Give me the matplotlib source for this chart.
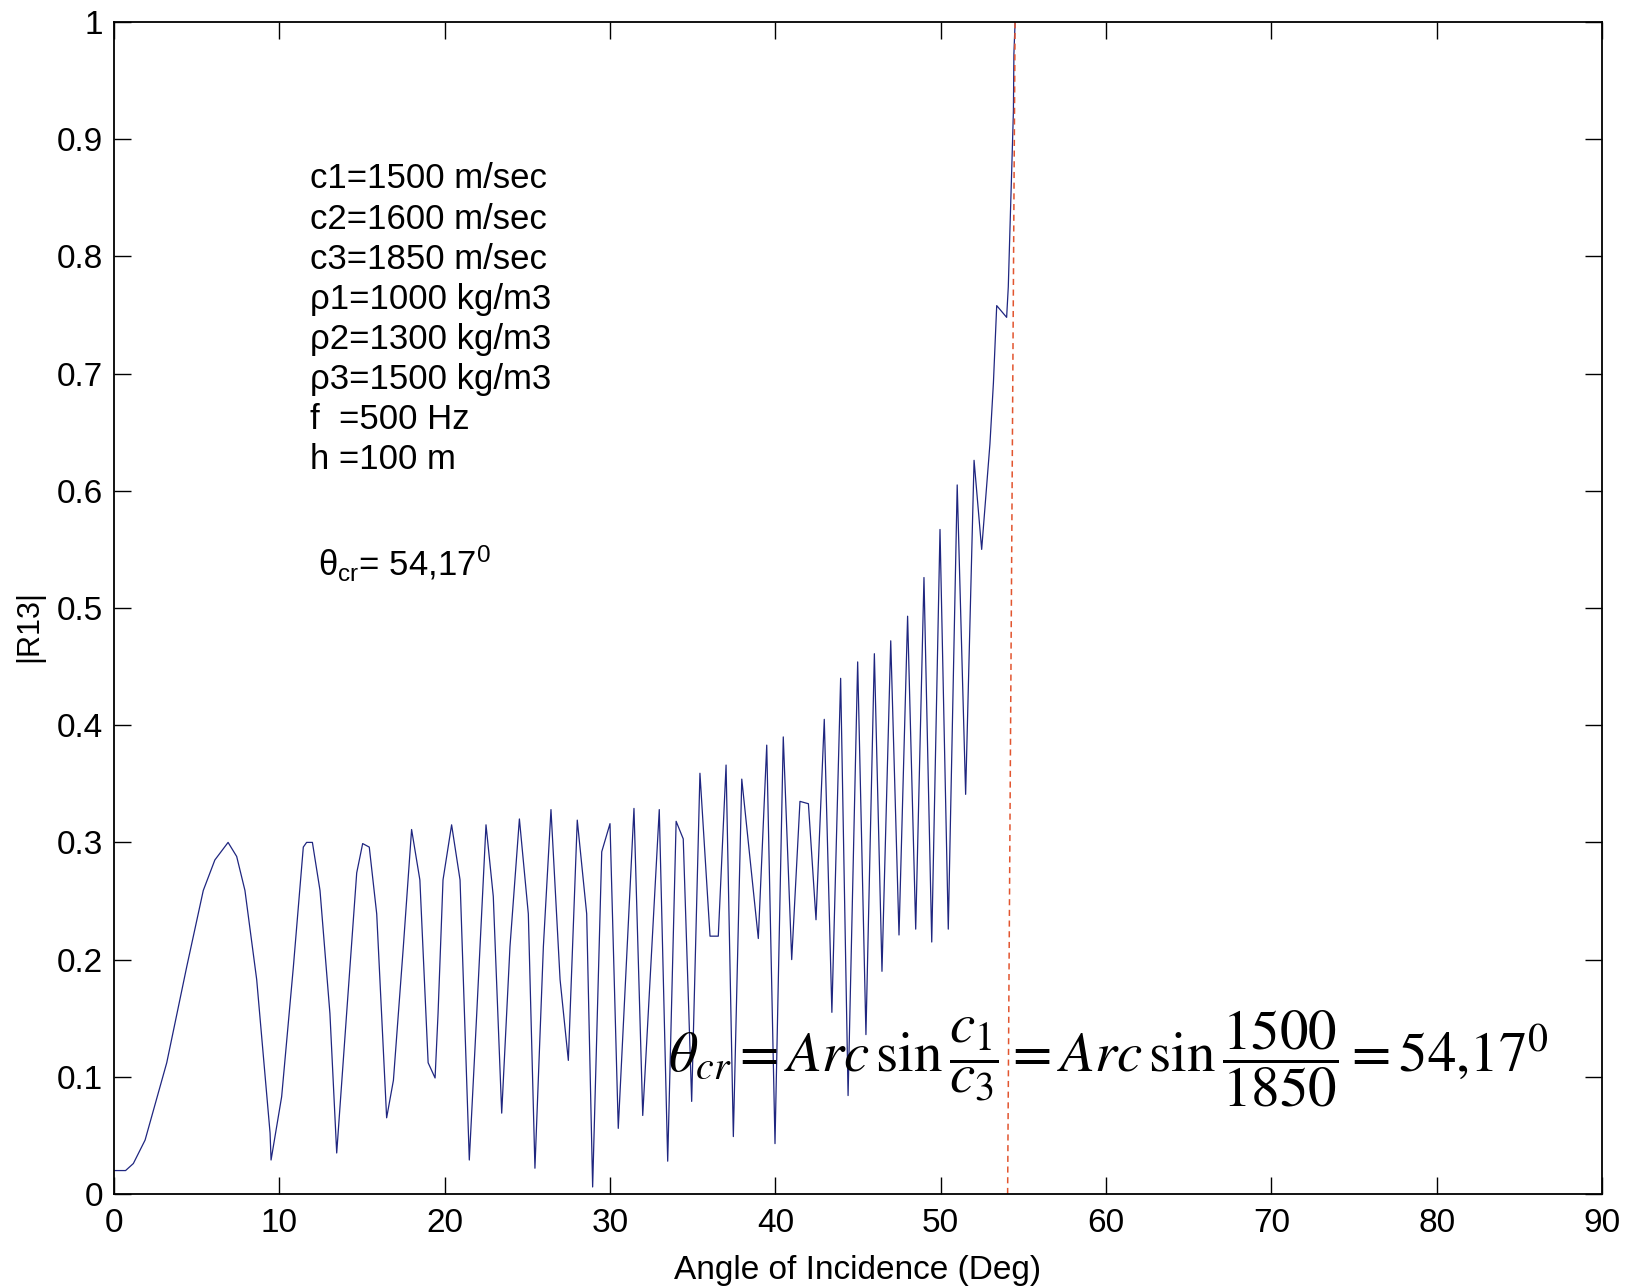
import matplotlib
matplotlib.use("Agg")
import matplotlib.pyplot as plt

# |R13| (vertices de la curva, grados)
angle_deg = [0.00, 0.70, 1.17, 1.88, 3.19, 4.40, 5.40, 6.10, 6.90, 7.42,
             7.92, 8.63, 9.44, 9.50, 10.14, 10.85, 11.45, 11.65, 12.00, 12.46,
             13.06, 13.47, 14.07, 14.68, 15.04, 15.44, 15.89, 16.49, 16.90, 17.50,
             18.00, 18.50, 19.00, 19.42, 19.60, 19.90, 20.42, 20.93, 21.49, 21.94,
             22.50, 22.94, 23.45, 23.95, 24.52, 25.06, 25.46, 25.97, 26.43, 26.98,
             27.48, 28.02, 28.59, 28.95, 29.50, 30.00, 30.50, 31.45, 31.98, 32.98,
             33.49, 34.00, 34.43, 34.94, 35.44, 36.05, 36.55, 37.02, 37.46, 37.97,
             38.97, 39.48, 39.98, 40.48, 40.99, 41.49, 42.00, 42.46, 42.96, 43.42,
             43.95, 44.40, 44.98, 45.48, 45.99, 46.45, 46.98, 47.48, 48.00, 48.49,
             48.99, 49.46, 49.96, 50.46, 51.00, 51.51, 52.02, 52.48, 52.98, 53.19,
             53.39, 53.99, 54.09, 54.19, 54.30, 54.40, 54.43, 54.50]
r13 = [0.020, 0.020, 0.026, 0.046, 0.112, 0.194, 0.259, 0.285, 0.300, 0.288,
       0.259, 0.183, 0.052, 0.029, 0.083, 0.194, 0.296, 0.300, 0.300, 0.259,
       0.154, 0.035, 0.154, 0.274, 0.299, 0.296, 0.239, 0.065, 0.097, 0.211,
       0.311, 0.268, 0.112, 0.099, 0.154, 0.268, 0.315, 0.268, 0.029, 0.154,
       0.315, 0.254, 0.069, 0.211, 0.320, 0.239, 0.022, 0.211, 0.328, 0.183,
       0.114, 0.319, 0.239, 0.006, 0.292, 0.316, 0.056, 0.329, 0.067, 0.328,
       0.028, 0.318, 0.303, 0.079, 0.359, 0.220, 0.220, 0.366, 0.049, 0.354,
       0.218, 0.383, 0.043, 0.390, 0.200, 0.335, 0.333, 0.234, 0.405, 0.155,
       0.440, 0.084, 0.454, 0.136, 0.461, 0.190, 0.472, 0.221, 0.493, 0.226,
       0.526, 0.215, 0.567, 0.226, 0.605, 0.341, 0.626, 0.550, 0.640, 0.692,
       0.758, 0.748, 0.774, 0.823, 0.875, 0.924, 0.973, 0.999]

# linea del angulo critico (ligeramente inclinada en la imagen)
crit_x = [54.05, 54.50]
crit_y = [0.0, 1.0]

param_lines = ["c1=1500 m/sec", "c2=1600 m/sec", "c3=1850 m/sec",
               "\u03c11=1000 kg/m3", "\u03c12=1300 kg/m3", "\u03c13=1500 kg/m3",
               "f  =500 Hz", "h =100 m"]

x_ticks = [0, 10, 20, 30, 40, 50, 60, 70, 80, 90]
y_ticks = [0, 0.1, 0.2, 0.3, 0.4, 0.5, 0.6, 0.7, 0.8, 0.9, 1]
y_tick_labels = ["0", "0.1", "0.2", "0.3", "0.4", "0.5", "0.6", "0.7", "0.8", "0.9", "1"]

W, H = 1638, 1287


def grafica():
    plt.rcParams['font.family'] = ['Liberation Sans', 'DejaVu Sans']
    plt.rcParams['mathtext.fontset'] = 'custom'
    plt.rcParams['mathtext.rm'] = 'Liberation Sans'
    plt.rcParams['mathtext.it'] = 'Liberation Sans:italic'

    fig = plt.figure(figsize=(W / 100, H / 100), dpi=100)
    ax = fig.add_axes([114 / W, 1 - 1194 / H, 1488 / W, 1172 / H])

    ax.plot(angle_deg, r13, color='#1f2680', linewidth=0.9)
    ax.plot(crit_x, crit_y, color='#e2552f', linewidth=1.1, linestyle=(0, (4, 3)))

    ax.set_xlim(0, 90)
    ax.set_ylim(0, 1)
    ax.set_xticks(x_ticks)
    ax.set_yticks(y_ticks)
    ax.set_yticklabels(y_tick_labels)
    ax.tick_params(direction='in', length=12, width=1, top=True, right=True)
    ax.tick_params(axis='y', labelsize=24, pad=8)
    ax.tick_params(axis='x', labelsize=24, pad=10)
    for s in ax.spines.values():
        s.set_linewidth(1.3)

    ax.set_xlabel('Angle of Incidence (Deg)', fontsize=24)
    ax.xaxis.set_label_coords(0.5, -0.052)
    ax.set_ylabel('|R13|', fontsize=22, va='center')
    ax.yaxis.set_label_coords(-0.057, 0.485)

    # bloque de parametros
    for i, t in enumerate(param_lines):
        fig.text(310 / W, 1 - (179 + i * 40.1) / H, t, fontsize=25,
                 va='center', ha='left')

    fig.text(318 / W, 1 - 564 / H, r'$\mathrm{\theta}_{\mathrm{cr}}$= 54,17$^{\mathrm{0}}$',
             fontsize=25, va='center', ha='left')

    fig.text(668 / W, 1 - 1071 / H,
             r'$\theta_{cr} = Arc\,\sin\dfrac{c_1}{c_3} = Arc\,\sin\dfrac{1500}{1850} = 54{,}17^0$',
             fontsize=41, math_fontfamily='stix', va='baseline', ha='left')

    fig.savefig('out.png', dpi=100)


if __name__ == "__main__":
    grafica()
